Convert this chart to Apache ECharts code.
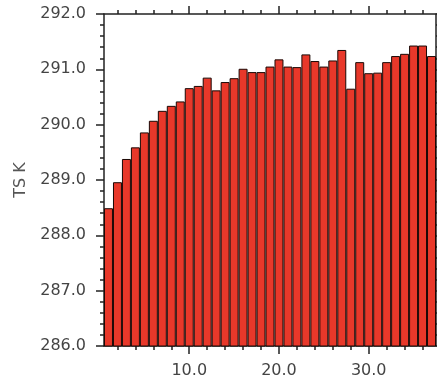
<!DOCTYPE html>
<html>
<head>
<meta charset="utf-8">
<script src="https://cdn.jsdelivr.net/npm/echarts@6/dist/echarts.min.js"></script>
<style>html,body{margin:0;padding:0;background:#fff}#c{width:437px;height:381px}</style>
</head>
<body>
<div id="c"></div>
<script>
const categories = Array.from({length: 37}, (_, i) => i + 1);
const tsValues = [288.49, 288.96, 289.38, 289.59, 289.86, 290.07, 290.25, 290.34, 290.42, 290.66,
  290.70, 290.85, 290.62, 290.77, 290.84, 291.01, 290.95, 290.95, 291.05, 291.18,
  291.05, 291.04, 291.27, 291.15, 291.05, 291.16, 291.35, 290.65, 291.13, 290.93,
  290.94, 291.13, 291.24, 291.28, 291.43, 291.43, 291.24];
const xMajorTicks = [10, 20, 30];
const xMinorTicks = [2, 4, 6, 8, 12, 14, 16, 18, 22, 24, 26, 28, 32, 34, 36];
const yTitle = 'TS K';

const chart = echarts.init(document.getElementById('c'), null, {renderer: 'canvas'});
const lineStyle = {color: '#222', width: 1.5};
const labelFont = {fontFamily: 'DejaVu Sans', fontSize: 16, color: '#444'};
chart.setOption({
  animation: false,
  grid: {left: 104, right: 1, top: 14, bottom: 35},
  xAxis: [
    {type: 'category', data: categories, boundaryGap: true, show: false, gridIndex: 0},
    {type: 'value', min: 0.5, max: 37.5, position: 'bottom', gridIndex: 0,
      axisLine: {show: true, lineStyle: lineStyle},
      axisTick: {show: true, inside: false, length: 8, lineStyle: lineStyle, customValues: xMajorTicks},
      axisLabel: Object.assign({show: true, margin: 17, customValues: xMajorTicks, formatter: v => v.toFixed(1)}, labelFont),
      splitLine: {show: false}},
    {type: 'value', min: 0.5, max: 37.5, position: 'bottom', gridIndex: 0,
      axisLine: {show: false},
      axisTick: {show: true, inside: false, length: 4, lineStyle: lineStyle, customValues: xMinorTicks},
      axisLabel: {show: false}, splitLine: {show: false}},
    {type: 'value', min: 0.5, max: 37.5, position: 'top', gridIndex: 0,
      axisLine: {show: true, lineStyle: lineStyle},
      axisTick: {show: true, inside: false, length: 8, lineStyle: lineStyle, customValues: xMajorTicks},
      axisLabel: {show: false}, splitLine: {show: false}},
    {type: 'value', min: 0.5, max: 37.5, position: 'top', gridIndex: 0,
      axisLine: {show: false},
      axisTick: {show: true, inside: false, length: 4, lineStyle: lineStyle, customValues: xMinorTicks},
      axisLabel: {show: false}, splitLine: {show: false}}
  ],
  yAxis: [
    {type: 'value', min: 286, max: 292, interval: 1, position: 'left',
      name: yTitle, nameLocation: 'middle', nameGap: 74, nameRotate: 90,
      nameTextStyle: {fontFamily: 'DejaVu Sans', fontSize: 16, color: '#555'},
      axisLine: {show: true, lineStyle: lineStyle},
      axisTick: {show: true, inside: false, length: 8, lineStyle: lineStyle},
      minorTick: {show: true, splitNumber: 5, length: 4, lineStyle: lineStyle},
      axisLabel: Object.assign({margin: 18, formatter: v => v.toFixed(1)}, labelFont),
      splitLine: {show: false}},
    {type: 'value', min: 286, max: 292, interval: 1, position: 'right',
      axisLine: {show: true, lineStyle: lineStyle},
      axisTick: {show: true, inside: false, length: 8, lineStyle: lineStyle},
      minorTick: {show: true, splitNumber: 5, length: 4, lineStyle: lineStyle},
      axisLabel: {show: false}, splitLine: {show: false}}
  ],
  series: [{
    type: 'bar', xAxisIndex: 0, yAxisIndex: 0,
    data: tsValues,
    barCategoryGap: '0%',
    itemStyle: {color: '#E8382A', borderColor: '#1a0805', borderWidth: 1}
  }]
});
</script>
</body>
</html>
